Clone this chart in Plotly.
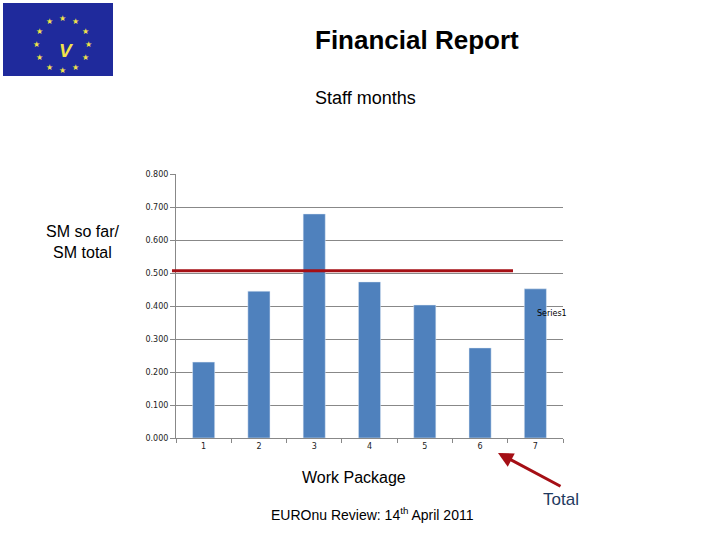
import math
import plotly.graph_objects as go

# ---- data ----
work_packages = ["1", "2", "3", "4", "5", "6", "7"]
sm_ratio = [0.230, 0.445, 0.679, 0.473, 0.403, 0.273, 0.452]
target_ratio = 0.507
y_ticks = [0.0, 0.1, 0.2, 0.3, 0.4, 0.5, 0.6, 0.7, 0.8]

W, H = 720, 540
L, R, T, B = 176, 563, 174, 438


def px(x):
    return (x - L) / (R - L)


def py(y):
    return (B - y) / (B - T)


fig = go.Figure()
fig.add_trace(go.Bar(x=work_packages, y=sm_ratio, marker_color="#4F81BD",
                     name="Series1", showlegend=False))

fig.update_layout(
    width=W, height=H,
    margin=dict(l=L, r=W - R, t=T, b=H - B, pad=0),
    paper_bgcolor="white", plot_bgcolor="white",
    bargap=0.6,
    font=dict(family="DejaVu Sans", size=8, color="#222"),
    xaxis=dict(type="category", tickson="boundaries", ticks="outside", ticklen=4,
               tickcolor="#888", showline=True, linecolor="#888", linewidth=1,
               showgrid=False, tickfont=dict(size=8, family="DejaVu Sans")),
    yaxis=dict(range=[0, 0.8], tickvals=y_ticks, tickformat=".3f", ticks="outside",
               ticklen=5, tickcolor="#888", showline=True, linecolor="#888",
               showgrid=True, gridcolor="#888", gridwidth=1, zeroline=False,
               tickfont=dict(size=8, family="DejaVu Sans")),
)

# red target line
fig.add_shape(type="line", xref="paper", yref="y", x0=px(172), x1=px(513),
              y0=target_ratio, y1=target_ratio, line=dict(color="#A50F15", width=3))

ann = []


def text(t, x, y, size, color="black", bold=False, family="Liberation Sans", xanchor="center"):
    ann.append(dict(text=("<b>%s</b>" % t) if bold else t, xref="paper", yref="paper",
                    x=px(x), y=py(y), showarrow=False, xanchor=xanchor, yanchor="middle",
                    font=dict(size=size, color=color, family=family)))


text("Financial Report", 417, 40, 26, bold=True)
text("Staff months", 365, 98, 18)
text("SM so far/<br>SM total", 82, 242, 16)
text("Work Package", 354, 477, 16)
text("EUROnu Review: 14<sup>th</sup> April 2011", 372, 514, 14)
text("Total", 561, 499, 17, color="#1F3A5F")
text("Series1", 535, 313, 8, family="DejaVu Sans", xanchor="left")

# arrow
ann.append(dict(text="", xref="paper", yref="paper", x=px(498), y=py(453),
                axref="pixel", ayref="pixel", ax=64, ay=34, showarrow=True,
                arrowhead=2, arrowsize=1.0, arrowwidth=3, arrowcolor="#A50F15"))

# logo
fig.add_shape(type="rect", xref="paper", yref="paper", x0=px(3), x1=px(113),
              y0=py(76), y1=py(3), fillcolor="#1F2A9C", line=dict(color="#1F2A9C", width=0))
cx, cy, r = 58, 39, 26
for i in range(12):
    a = 2 * math.pi * i / 12
    ann.append(dict(text="★", xref="paper", yref="paper",
                    x=px(cx + r * math.sin(a)), y=py(cy - r * math.cos(a)),
                    showarrow=False, borderpad=0,
                    font=dict(size=8, color="#F2E24A", family="DejaVu Sans")))
ann.append(dict(text="<b><i>V</i></b>", xref="paper", yref="paper", x=px(cx), y=py(cy),
                showarrow=False, borderpad=0,
                font=dict(size=19, color="#F2E24A", family="Liberation Sans")))

fig.update_layout(annotations=ann)
fig.write_html("out.html", config={"displayModeBar": False},
               post_script="document.body.style.margin='0';")
